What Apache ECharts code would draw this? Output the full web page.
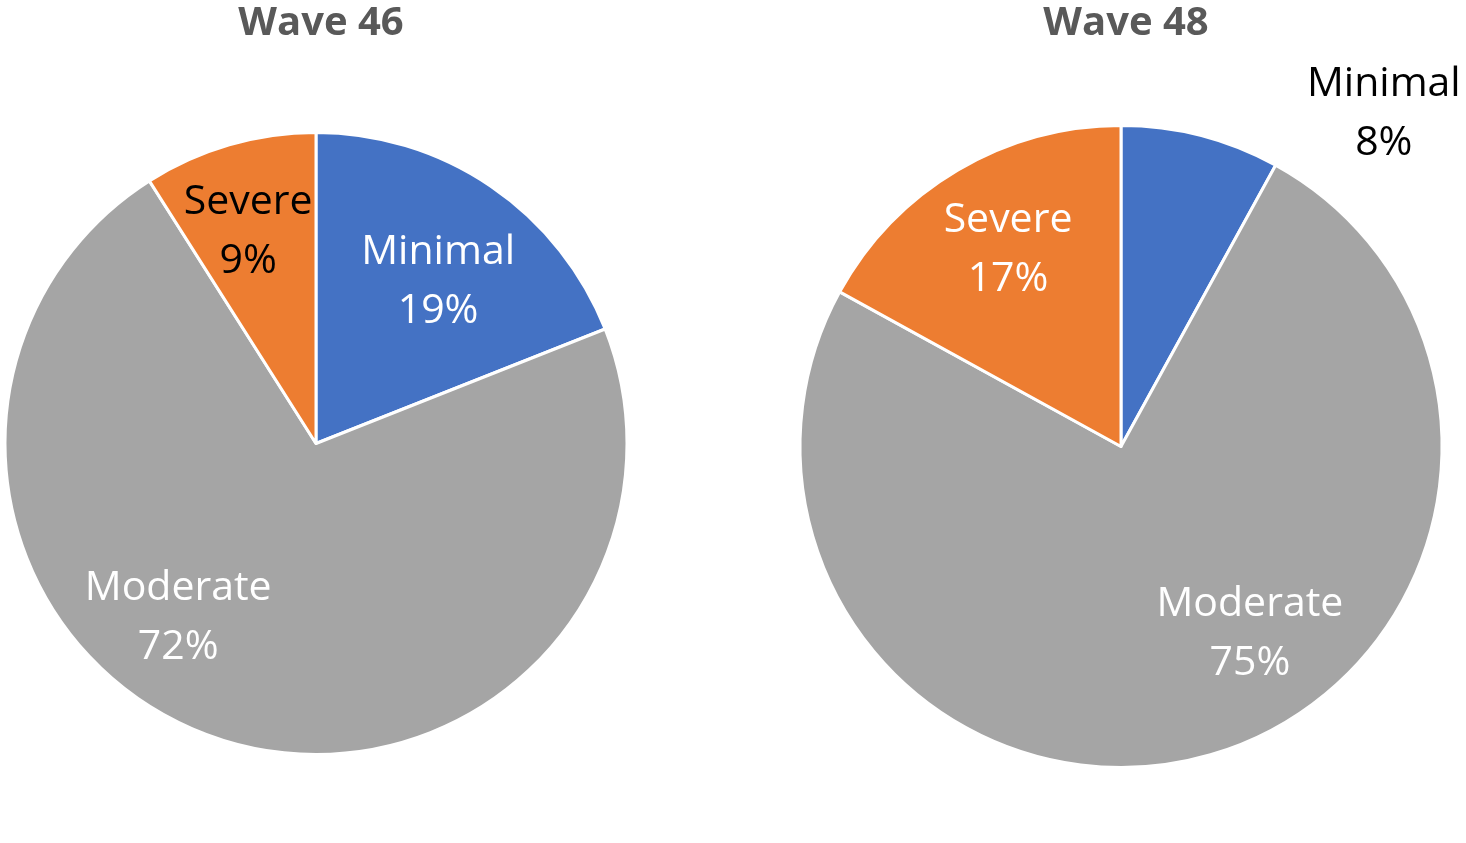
<!DOCTYPE html>
<html>
<head>
<meta charset="utf-8">
<script src="https://cdn.jsdelivr.net/npm/echarts@6/dist/echarts.min.js"></script>
<style>
  html, body { margin: 0; padding: 0; background: #fff; }
  #chart { width: 1466px; height: 843px; }
</style>
</head>
<body>
<div id="chart"></div>
<script>
// Severity shares, percent of respondents
const categories = ['Minimal', 'Moderate', 'Severe'];
const wave46 = [19, 72, 9];
const wave48 = [8, 75, 17];
const titles = ['Wave 46', 'Wave 48'];

const colors = ['#4472C4', '#A5A5A5', '#ED7D31'];

// pie geometry (pixels) and label placement (angle clockwise from top, fraction of radius)
const pies = [
  { center: [316, 443.5], radius: 311,
    labelAngle: [37.1, 218.3, -17.8], labelDist: [0.651, 0.715, 0.714],
    labelColor: ['#fff', '#fff', '#000'] },
  { center: [1121, 446.5], radius: 321,
    labelAngle: [38.3, 145.5, -29.9], labelDist: [1.321, 0.709, 0.706],
    labelColor: ['#000', '#fff', '#fff'] }
];

const FONT = '"Open Sans", "Noto Sans", sans-serif';

function makeSeries(values, geo) {
  return {
    type: 'pie',
    center: geo.center,
    radius: [0, geo.radius],
    startAngle: 90,
    clockwise: true,
    animation: false,
    silent: true,
    itemStyle: { borderColor: '#fff', borderWidth: 3 },
    label: {
      show: true,
      position: 'inside',
      formatter: p => p.name + '\n' + p.value + '%',
      fontFamily: FONT,
      fontSize: 41,
      lineHeight: 59
    },
    labelLine: { show: false },
    labelLayout: params => {
      const i = params.dataIndex;
      const a = geo.labelAngle[i] * Math.PI / 180;
      const d = geo.labelDist[i] * geo.radius;
      return {
        x: geo.center[0] + d * Math.sin(a),
        y: geo.center[1] - d * Math.cos(a),
        align: 'center',
        verticalAlign: 'middle'
      };
    },
    data: categories.map((c, i) => ({
      name: c,
      value: values[i],
      itemStyle: { color: colors[i] },
      label: { color: geo.labelColor[i] }
    }))
  };
}

const chart = echarts.init(document.getElementById('chart'), null, { renderer: 'canvas' });
chart.setOption({
  backgroundColor: '#fff',
  title: titles.map((t, k) => ({
    text: t,
    left: pies[k].center[0],
    top: -1,
    textAlign: 'center',
    textStyle: { fontFamily: FONT, fontWeight: 'bold', fontSize: 40, color: '#595959' }
  })),
  series: [makeSeries(wave46, pies[0]), makeSeries(wave48, pies[1])]
});
</script>
</body>
</html>
